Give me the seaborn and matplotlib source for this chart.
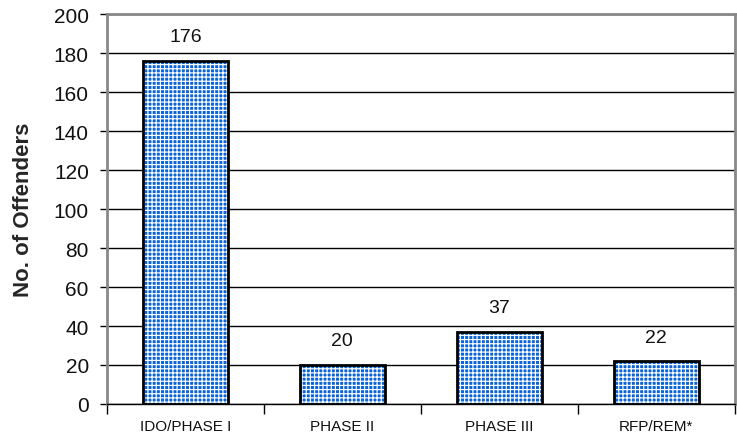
import numpy as np
import pandas as pd
import seaborn as sns
import matplotlib.pyplot as plt
from matplotlib.patches import Rectangle

categories = ['IDO/PHASE I', 'PHASE II', 'PHASE III', 'RFP/REM*']
offenders = [176, 20, 37, 22]

sns.set_style('white')
plt.rcParams['font.family'] = ['Liberation Sans', 'DejaVu Sans']
plt.rcParams['hatch.linewidth'] = 0.85

df = pd.DataFrame({'cat': categories, 'n': offenders})

fig = plt.figure(figsize=(7.37, 4.39), dpi=100)
ax = fig.add_axes([0.145, 0.0775, 0.852, 0.888])

sns.barplot(data=df, x='cat', y='n', ax=ax, color='#0a64d8', saturation=1,
            width=0.54, edgecolor='white', linewidth=0, hatch='++++')

# black outline on top of the hatched bars
for p in list(ax.patches):
    ax.add_patch(Rectangle(p.get_xy(), p.get_width(), p.get_height(),
                           fill=False, edgecolor='black', linewidth=2, zorder=3))

for i, v in enumerate(offenders):
    ax.text(i, v + 8, str(v), ha='center', va='bottom', fontsize=14, color='#111111')

ax.set_ylim(0, 200)
ax.set_xlim(-0.5, len(categories) - 0.5)
ax.set_yticks(range(0, 201, 20))
ax.yaxis.grid(True, color='black', linewidth=1)
ax.set_axisbelow(True)

ax.set_xticks([i - 0.5 for i in range(len(categories) + 1)], minor=True)
ax.set_xticks(range(len(categories)))
ax.set_xticklabels(categories, fontsize=11, color='#111111')
ax.tick_params(axis='x', which='major', length=0, pad=11)
ax.tick_params(axis='x', which='minor', length=7, width=1, color='black', direction='out', bottom=True)
ax.tick_params(axis='y', length=5, width=1, color='black', direction='out', left=True,
               labelsize=15, pad=8, labelcolor='#111111')

ax.set_xlabel('')
ax.set_ylabel('No. of Offenders', fontsize=16, fontweight='bold', labelpad=14)

for s in ['top', 'right', 'left']:
    ax.spines[s].set_color('#888888')
    ax.spines[s].set_linewidth(2)
ax.spines['bottom'].set_color('black')
ax.spines['bottom'].set_linewidth(1)

fig.savefig('out.png', dpi=100)
